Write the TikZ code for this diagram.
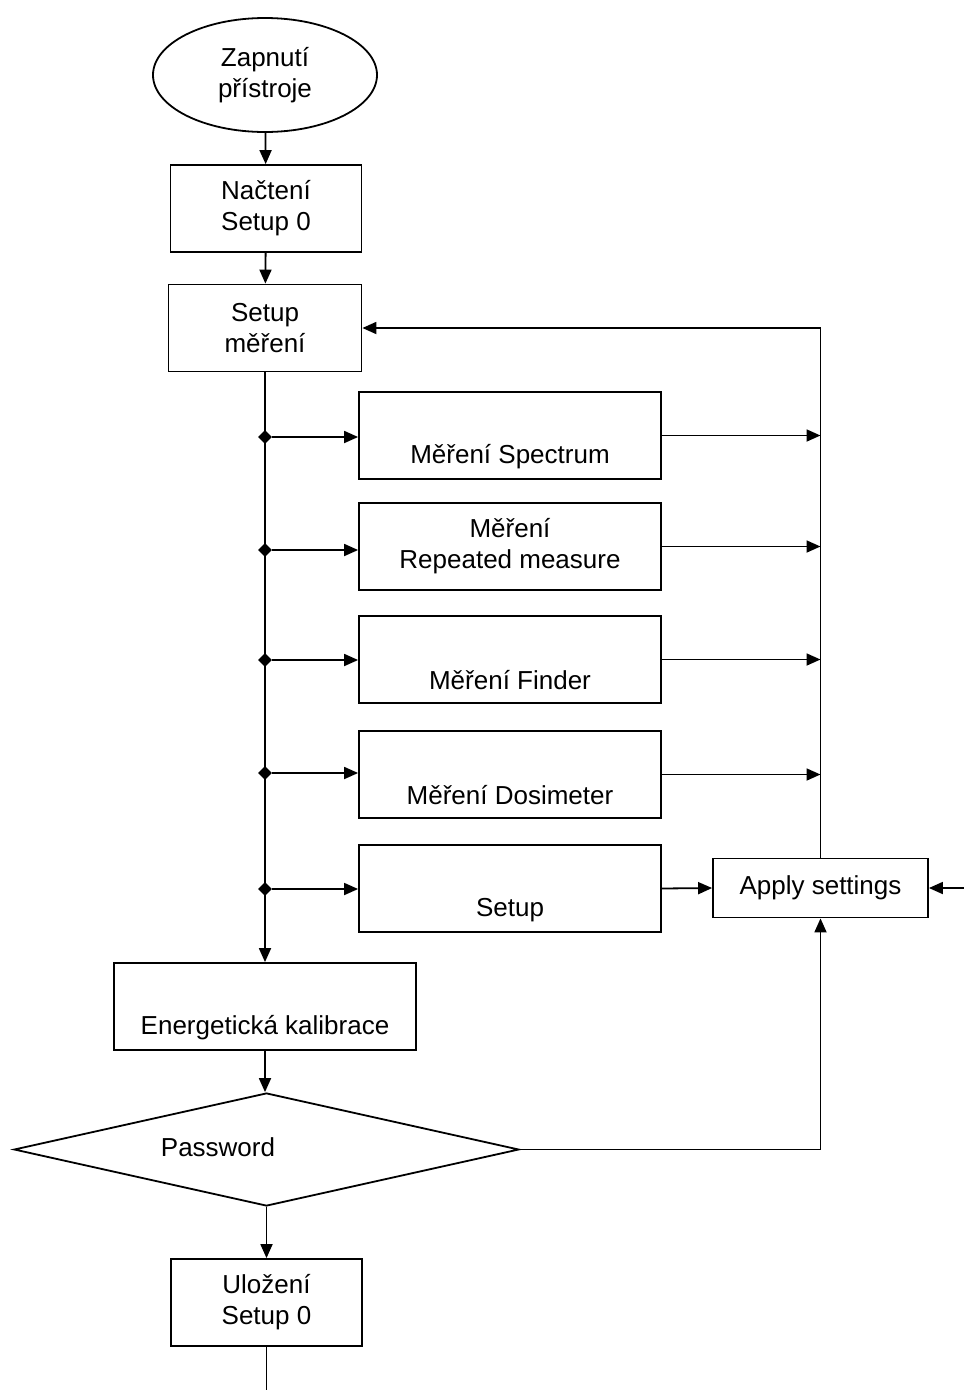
\documentclass[tikz,border=0pt]{standalone}
\usepackage{fontspec}
\setmainfont{Liberation Sans}
\usetikzlibrary{arrows.meta, positioning, shapes.geometric, calc}

\begin{document}
\begin{tikzpicture}[
  x=1pt, y=-1pt,
  font=\fontsize{26}{31}\selectfont,
  box/.style={rectangle, draw, line width=1.8pt, minimum width=191pt,
    minimum height=87pt, align=center, inner sep=0pt},
  wide/.style={box, minimum width=302pt},
  dot/.style={diamond, fill, inner sep=0pt, minimum size=14pt},
  arr/.style={-{Triangle[length=14pt, width=12pt]}, line width=1.8pt},
  ln/.style={line width=1.8pt}
]
\useasboundingbox (0,0) rectangle (964,1390);

\node[ellipse, draw, line width=1.8pt, minimum width=224pt, minimum height=114pt,
  align=center, inner sep=0pt] (start) at (265,75) {Zapnutí\\přístroje};
\node[box] (load) at (266,208.5) {Načtení\\Setup 0};
\node[box, minimum width=193pt] (setup) at (265,328) {Setup\\měření};

\node[wide] (spec) at (510,435.5) {\strut\\[8pt]Měření Spectrum};
\node[wide] (rep) at (510,546.5) {Měření\\Repeated measure};
\node[wide] (find) at (510,659.5) {\strut\\[8pt]Měření Finder};
\node[wide] (dosi) at (510,774.5) {\strut\\[8pt]Měření Dosimeter};
\node[wide] (cfg) at (510,888.5) {\strut\\[8pt]Setup};
\node[box, minimum width=215pt, minimum height=59pt] (apply) at (820.5,888)
  {Apply settings};

\node[wide] (cal) at (265,1006.5) {\strut\\[8pt]Energetická kalibrace};
\node[diamond, draw, line width=1.8pt, minimum width=505pt, minimum height=113pt,
  inner sep=0pt] (pw) at (266.5,1149.5) {};
\node (pwtext) at (218,1147) {Password};
\node[box] (save) at (266.5,1302.5) {Uložení\\Setup 0};
\coordinate (bottom) at (266.5,1390);
\coordinate (east) at (964,888);

% main flow
\draw[arr] (start) -- (load);
\draw[arr] (load) -- (setup);
\draw[arr] (setup.south) -- (cal.north);
\draw[arr] (cal) -- (pw.north -| cal.south);
\draw[arr] (pw) -- (save);
\draw[ln] (save) -- (bottom);

% branches
\foreach \n/\y in {spec/437, rep/550, find/660, dosi/773, cfg/889} {
  \node[dot] (j\n) at (265,\y) {};
  \draw[arr] (j\n) -- (\n.west |- j\n);
}
\foreach \n in {spec, rep, find, dosi}
  \draw[arr] (\n.east) -- (\n.east -| apply.north);
\draw[arr] (cfg.east) -- (apply.west);
\draw[arr] (east) -- (apply.east);
\draw[arr] (apply.north) |- (setup.east);
\draw[arr] (pw.east) -| (apply.south);
\end{tikzpicture}
\end{document}
